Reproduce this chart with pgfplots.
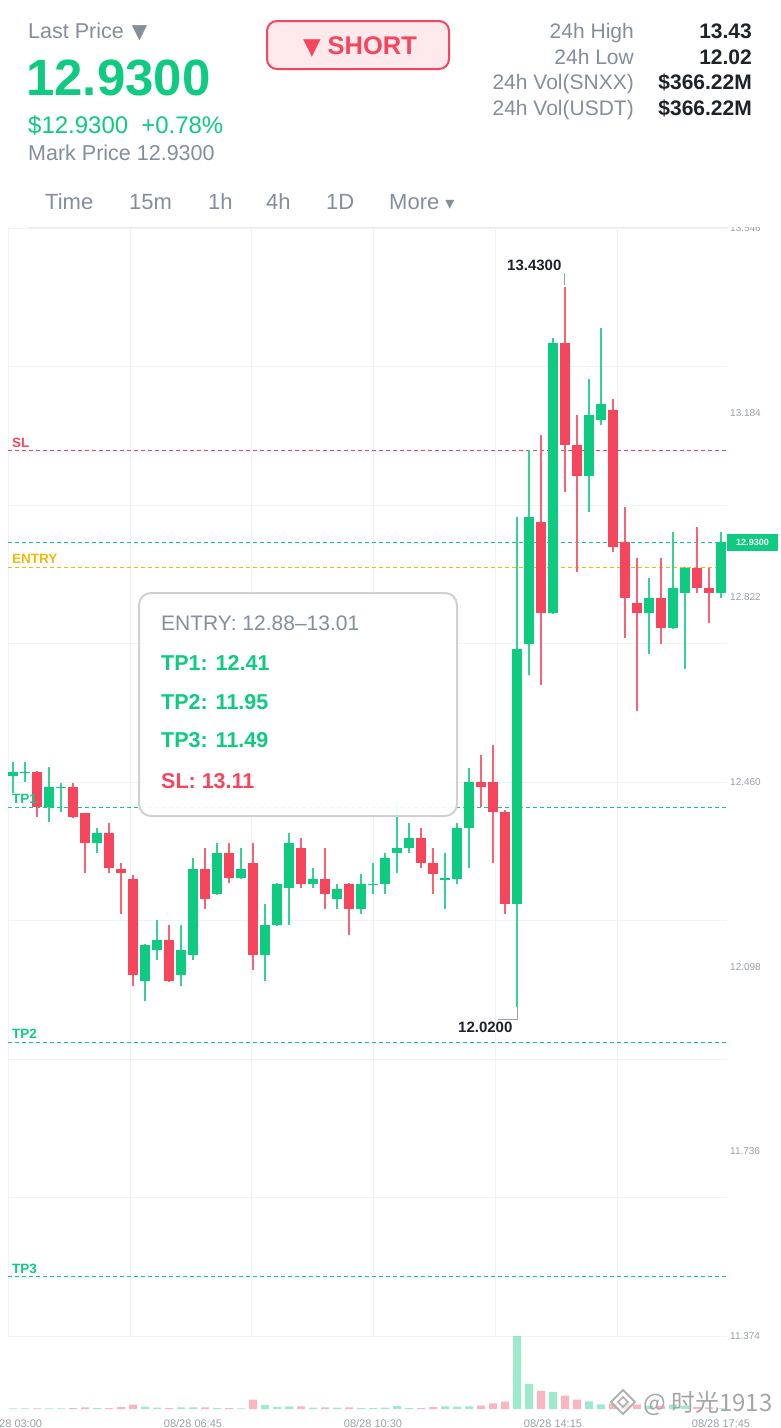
\documentclass[border=0pt]{standalone}
\usepackage{pgfplots}
\pgfplotsset{compat=1.18}
\usepackage{pgfplotstable}
\usepackage{fontspec}
\setmainfont{Liberation Sans}
\newfontfamily\cjk{Noto Sans CJK SC}
\newfontfamily\dejavu{DejaVu Sans}

\definecolor{upc}{HTML}{0ECB81}
\definecolor{dnc}{HTML}{F6465D}
\definecolor{txtgrey}{HTML}{848E9C}
\definecolor{axgrey}{HTML}{9AA0A8}
\definecolor{dark}{HTML}{1E2329}
\definecolor{entryc}{HTML}{F0B90B}
\definecolor{gridc}{HTML}{F1F2F3}

\newcommand{\fs}[1]{\fontsize{#1}{#1}\selectfont}

% 15m candles, i = 0 is 08/28 03:00
\pgfplotstableread{
i  o      h      l      c      v
0  12.472 12.499 12.438 12.480 2
1  12.478 12.499 12.460 12.480 2
3  12.411 12.489 12.382 12.450 2
4  12.449 12.458 12.401 12.450 2
7  12.340 12.370 12.321 12.360 3
11 12.070 12.142 12.031 12.141 7
12 12.131 12.190 12.111 12.150 4
14 12.082 12.180 12.060 12.131 5
15 12.121 12.311 12.111 12.289 5
17 12.240 12.340 12.238 12.321 3
19 12.272 12.331 12.270 12.289 2
21 12.121 12.221 12.070 12.180 12
22 12.180 12.262 12.178 12.260 6
23 12.252 12.360 12.180 12.340 8
25 12.260 12.291 12.252 12.270 4
27 12.231 12.260 12.211 12.250 4
29 12.211 12.280 12.201 12.260 3
30 12.259 12.301 12.240 12.260 3
31 12.260 12.321 12.240 12.311 4
32 12.321 12.421 12.282 12.331 9
33 12.331 12.380 12.321 12.350 3
36 12.270 12.321 12.211 12.271 8
37 12.270 12.380 12.260 12.370 7
38 12.370 12.487 12.291 12.460 8
42 12.221 12.979 12.020 12.721 220
43 12.730 13.111 12.670 12.979 76
45 12.791 13.330 12.789 13.321 52
48 13.060 13.250 12.989 13.179 23
49 13.170 13.350 13.160 13.201 14
53 12.791 12.860 12.711 12.821 10
55 12.762 12.950 12.760 12.840 13
56 12.831 12.882 12.682 12.880 10
59 12.831 12.950 12.821 12.930 2
}\upT

\pgfplotstableread{
i  o      h      l      c      v
2  12.480 12.482 12.391 12.411 2
5  12.450 12.458 12.389 12.391 3
6  12.399 12.400 12.282 12.340 5
8  12.360 12.380 12.282 12.291 3
9  12.290 12.301 12.201 12.282 6
10 12.270 12.278 12.060 12.082 13
13 12.150 12.180 12.068 12.070 3
16 12.289 12.331 12.211 12.231 5
18 12.321 12.340 12.262 12.272 3
20 12.301 12.340 12.091 12.121 28
24 12.331 12.350 12.252 12.260 8
26 12.270 12.331 12.211 12.240 5
28 12.260 12.262 12.160 12.211 5
34 12.350 12.370 12.291 12.301 3
35 12.301 12.331 12.240 12.280 6
39 12.460 12.513 12.411 12.450 10
40 12.460 12.533 12.301 12.401 17
41 12.401 12.405 12.201 12.221 22
44 12.970 13.140 12.650 12.791 55
46 13.321 13.430 13.028 13.121 40
47 13.121 13.179 12.872 13.060 28
50 13.189 13.211 12.911 12.921 16
51 12.930 12.999 12.742 12.821 16
52 12.811 12.899 12.599 12.791 13
54 12.821 12.899 12.730 12.762 10
57 12.880 12.960 12.831 12.840 6
58 12.840 12.880 12.772 12.831 5
}\dnT

\pgfplotsset{
  wick/.style={draw=none, mark=none, mark size=0pt, error bars/.cd, y dir=both, y explicit,
    error mark=none, error bar style={draw=#1, line width=1.2pt}},
  body/.style={draw=none, mark=none, mark size=0pt, error bars/.cd, y dir=both, y explicit,
    error mark=none, error bar style={draw=#1, line width=9.5pt}},
}

\begin{document}
\begin{tikzpicture}
\clip (0pt,0pt) rectangle (780pt,-1428pt);
\fill[white] (0pt,0pt) rectangle (780pt,-1428pt);

% price panel
\begin{axis}[
  at={(8pt,-1336pt)}, anchor=south west, scale only axis,
  width=719pt, height=1108pt,
  xmin=-0.4167, xmax=59.5, ymin=11.374, ymax=13.546,
  axis line style={draw=none}, major tick length=0pt,
  grid=major, major grid style={draw=gridc, line width=1pt},
  xtick={-0.4167,9.75,19.9,30.05,40.2,50.35}, xticklabels={},
  ytick={11.374,11.6455,11.917,12.1885,12.46,12.7315,13.003,13.2745,13.546},
  yticklabels={}, yticklabel pos=right,
  extra y ticks={11.374,11.736,12.098,12.460,12.822,13.184,13.546},
  extra y tick labels={11.374,11.736,12.098,12.460,12.822,13.184,13.546},
  extra y tick style={grid=none, tick label style={font=\fs{10}, text=axgrey, anchor=west, inner sep=0pt, xshift=3pt}},
]
\addplot[dnc, line width=1pt, dash pattern=on 4pt off 3pt] coordinates {(-0.4167,13.11) (59.5,13.11)};
\addplot[upc, line width=1pt, dash pattern=on 4pt off 3pt] coordinates {(-0.4167,12.93) (59.5,12.93)};
\addplot[entryc, line width=1.2pt, dash pattern=on 4pt off 3pt] coordinates {(-0.4167,12.88) (59.5,12.88)};
\addplot[upc, line width=1pt, dash pattern=on 4pt off 3pt] coordinates {(-0.4167,12.41) (59.5,12.41)};
\addplot[upc, line width=1pt, dash pattern=on 4pt off 3pt] coordinates {(-0.4167,11.95) (59.5,11.95)};
\addplot[upc, line width=1pt, dash pattern=on 4pt off 3pt] coordinates {(-0.4167,11.49) (59.5,11.49)};

\addplot[wick=upc!85] table[x=i, y expr={(\thisrow{h}+\thisrow{l})/2}, y error expr={(\thisrow{h}-\thisrow{l})/2}] {\upT};
\addplot[wick=dnc!85] table[x=i, y expr={(\thisrow{h}+\thisrow{l})/2}, y error expr={(\thisrow{h}-\thisrow{l})/2}] {\dnT};
\addplot[body=upc] table[x=i, y expr={(\thisrow{o}+\thisrow{c})/2}, y error expr={max(abs(\thisrow{c}-\thisrow{o})/2,0.0013)}] {\upT};
\addplot[body=dnc] table[x=i, y expr={(\thisrow{o}+\thisrow{c})/2}, y error expr={max(abs(\thisrow{c}-\thisrow{o})/2,0.0013)}] {\dnT};
\end{axis}

% volume panel
\begin{axis}[
  at={(8pt,-1409pt)}, anchor=south west, scale only axis,
  width=719pt, height=73pt,
  xmin=-0.4167, xmax=59.5, ymin=0, ymax=220,
  axis line style={draw=none}, major tick length=0pt, ytick=\empty,
  xtick={0,15,30,45,59},
  xticklabels={08/28 03:00,08/28 06:45,08/28 10:30,08/28 14:15,08/28 17:45},
  xticklabel style={font=\fs{11}, text=axgrey, anchor=base, yshift=-18pt},
]
\addplot[ybar, bar width=8pt, bar shift=0pt, draw=none, fill=upc, fill opacity=0.4] table[x=i, y=v] {\upT};
\addplot[ybar, bar width=8pt, bar shift=0pt, draw=none, fill=dnc, fill opacity=0.4] table[x=i, y=v] {\dnT};
\end{axis}

\begin{scope}[x=1pt, y=-1pt, every node/.style={inner sep=0pt, anchor=base west}]
% header
\fill[white] (0,0) rectangle (780,226.5);
\draw[gridc!90!black!60, line width=1.5pt] (28,227.5) -- (730,227.5);
\node[text=txtgrey, font=\fs{21.5}] at (28,38) {Last Price\hspace{8pt}{\dejavu\fs{20}▼}};
\node[text=upc, font=\bfseries\fs{51}] at (26,95) {12.9300};
\node[text=upc, font=\fs{24}] at (28,133) {\$12.9300\hspace{13pt}+0.78\%};
\node[text=txtgrey, font=\fs{21.5}] at (28,160) {Mark Price 12.9300};
\draw[dnc, fill=dnc!12, line width=2pt, rounded corners=10pt] (267,21) rectangle (449,69);
\node[anchor=base, text=dnc, font=\bfseries\fs{25.5}] at (360,54) {{\dejavu\fs{23}▼}\hspace{7pt}SHORT};
\foreach \lab/\val/\yy in {24h High/13.43/38, 24h Low/12.02/64, 24h Vol(SNXX)/\$366.22M/89, 24h Vol(USDT)/\$366.22M/115}{
  \node[anchor=base east, text=txtgrey, font=\fs{21}] at (634,\yy) {\lab};
  \node[anchor=base east, text=dark, font=\bfseries\fs{21}] at (752,\yy) {\val};
}
\foreach \lab/\xx in {Time/45, 15m/129, 1h/208, 4h/266, 1D/326}{
  \node[text=txtgrey, font=\fs{22}] at (\xx,209) {\lab};
}
\node[text=txtgrey, font=\fs{22}] at (389,209) {More {\dejavu\fs{18}▾}};

% level labels
\node[text=dnc, font=\bfseries\fs{13.5}] at (12,447) {SL};
\node[text=entryc, font=\bfseries\fs{13.5}] at (12,563) {ENTRY};
\node[text=upc, font=\bfseries\fs{13.5}] at (12,803) {TP1};
\node[text=upc, font=\bfseries\fs{13.5}] at (12,1038) {TP2};
\node[text=upc, font=\bfseries\fs{13.5}] at (12,1273) {TP3};

% high / low marks
\node[text=dark, font=\bfseries\fs{15}] at (507,270) {13.4300};
\draw[axgrey, line width=1pt] (564,273) -- (564,285);
\node[text=dark, font=\bfseries\fs{15}] at (458,1032) {12.0200};
\draw[axgrey, line width=1pt] (517,1007) -- (517,1019) -- (498,1019);

% last price tag
\fill[upc] (727,534) rectangle (778,551);
\node[anchor=center, text=white, font=\bfseries\fs{9}] at (752.5,542.5) {12.9300};

% tooltip
\draw[draw=black!18, fill=white, fill opacity=0.92, line width=2pt, rounded corners=12pt] (139,593) rectangle (457,816);
\node[text=txtgrey, font=\fs{21}] at (161,630) {ENTRY: 12.88–13.01};
\node[text=upc, font=\bfseries\fs{21.5}] at (161,670) {TP1: 12.41};
\node[text=upc, font=\bfseries\fs{21.5}] at (161,709) {TP2: 11.95};
\node[text=upc, font=\bfseries\fs{21.5}] at (161,747) {TP3: 11.49};
\node[text=dnc, font=\bfseries\fs{21.5}] at (161,788) {SL: 13.11};

% watermark
\draw[black!30, line width=2pt, fill=white, fill opacity=0.6] (623,1390) -- (635,1402) -- (623,1414) -- (611,1402) -- cycle;
\draw[black!30, line width=1.5pt] (623,1397) -- (628,1402) -- (623,1407) -- (618,1402) -- cycle;
\node[text=black!35, font=\cjk\fs{24}] at (643,1411) {@ 时光1913};
\end{scope}
\end{tikzpicture}
\end{document}
